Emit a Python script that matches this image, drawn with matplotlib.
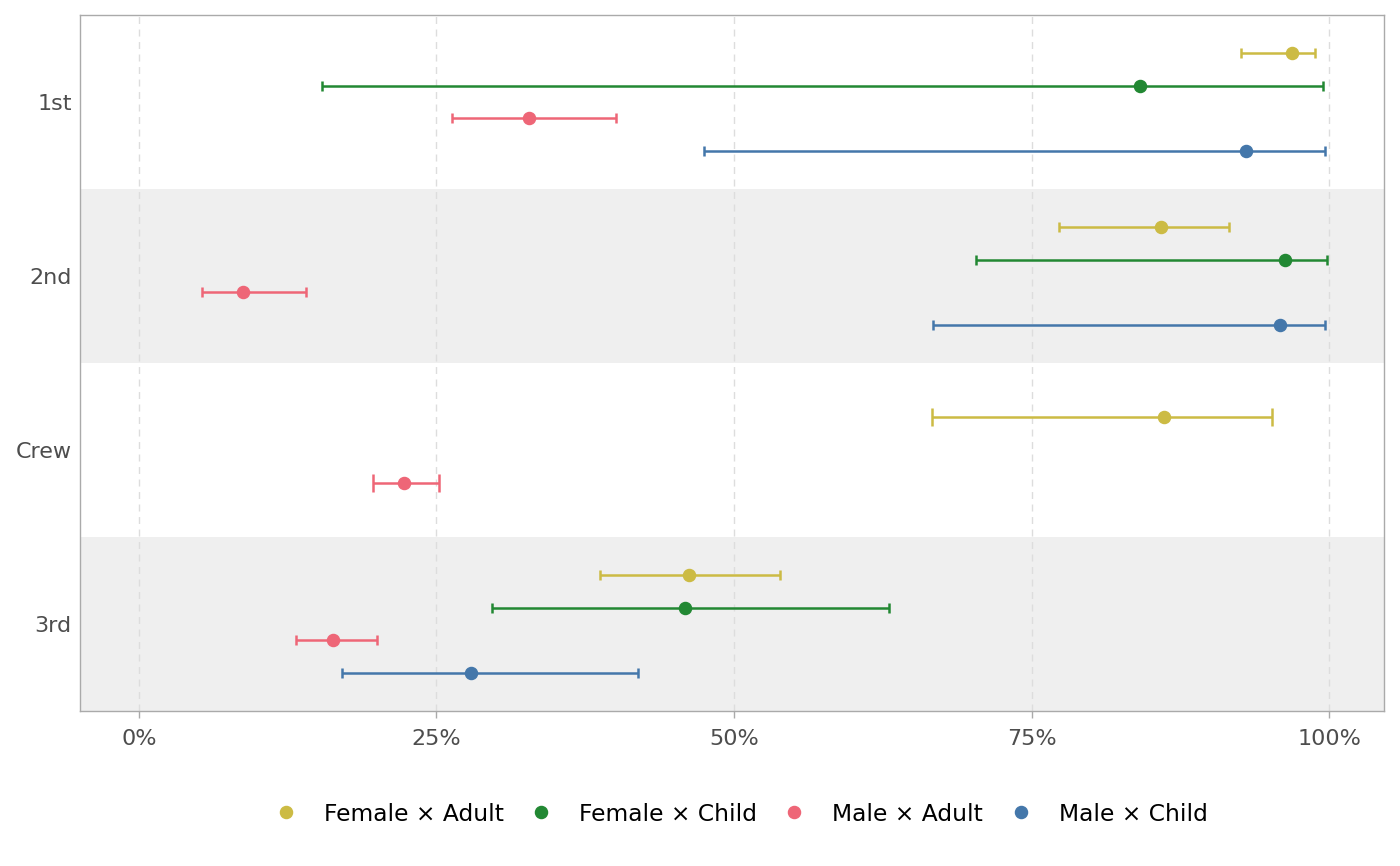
import matplotlib.pyplot as plt
from matplotlib.ticker import PercentFormatter

# survival estimates with confidence intervals
classes = ["1st", "2nd", "Crew", "3rd"]
groups = ["Female × Adult", "Female × Child", "Male × Adult", "Male × Child"]
colors = ["#CCBB44", "#228833", "#EE6677", "#4477AA"]

# one entry per class, None where the group is missing
est = {
    "Female × Adult": [0.969, 0.859, 0.861, 0.462],
    "Female × Child": [0.841, 0.963, None, 0.459],
    "Male × Adult":   [0.328, 0.087, 0.223, 0.163],
    "Male × Child":   [0.930, 0.959, None, 0.279],
}
low = {
    "Female × Adult": [0.926, 0.773, 0.666, 0.387],
    "Female × Child": [0.154, 0.703, None, 0.297],
    "Male × Adult":   [0.263, 0.053, 0.197, 0.132],
    "Male × Child":   [0.475, 0.667, None, 0.171],
}
high = {
    "Female × Adult": [0.988, 0.916, 0.952, 0.539],
    "Female × Child": [0.995, 0.998, None, 0.630],
    "Male × Adult":   [0.401, 0.140, 0.252, 0.200],
    "Male × Child":   [0.997, 0.997, None, 0.419],
}

dodge = 0.75

fig = plt.figure(figsize=(14, 8.66), dpi=100)
ax = fig.add_axes([0.0571, 0.179, 0.9315, 0.8037])

# alternating row bands
for i in range(len(classes)):
    if i % 2 == 1:
        ax.axhspan(i - 0.5, i + 0.5, color="#EFEFEF", lw=0, zorder=0)

for ci in range(len(classes)):
    present = [g for g in groups if est[g][ci] is not None]
    n = len(present)
    step = dodge / n
    for k, g in enumerate(present):
        y = ci - dodge / 2 + step * (k + 0.5)
        col = colors[groups.index(g)]
        e = est[g][ci]
        ax.errorbar(e, y, xerr=[[e - low[g][ci]], [high[g][ci] - e]],
                    fmt="o", color=col, ms=8.7, elinewidth=1.8,
                    capthick=1.8, capsize=13 / n, zorder=3)

ax.set_xlim(-0.0496, 1.0462)
ax.set_ylim(3.5, -0.5)
ax.set_xticks([0, 0.25, 0.5, 0.75, 1.0])
ax.xaxis.set_major_formatter(PercentFormatter(1.0, decimals=0))
ax.set_yticks(range(len(classes)))
ax.set_yticklabels(classes)
ax.grid(axis="x", color="#DDDDDD", lw=1, linestyle=(0, (5, 4)), zorder=1)
ax.set_axisbelow(True)

ax.tick_params(axis="x", colors="#AAAAAA", length=5, width=1,
               labelcolor="#4D4D4D", labelsize=16, pad=8)
ax.tick_params(axis="y", length=0, labelcolor="#4D4D4D", labelsize=16, pad=6)
for s in ax.spines.values():
    s.set_color("#AAAAAA")
    s.set_linewidth(1)

handles = [plt.Line2D([], [], ls="", marker="o", ms=8.7, color=c) for c in colors]
fig.legend(handles, groups, loc="center", bbox_to_anchor=(0.525, 0.06),
           ncol=4, frameon=False, fontsize=16.8, handletextpad=0.63,
           columnspacing=0.6)

plt.savefig("out.png", dpi=100)
